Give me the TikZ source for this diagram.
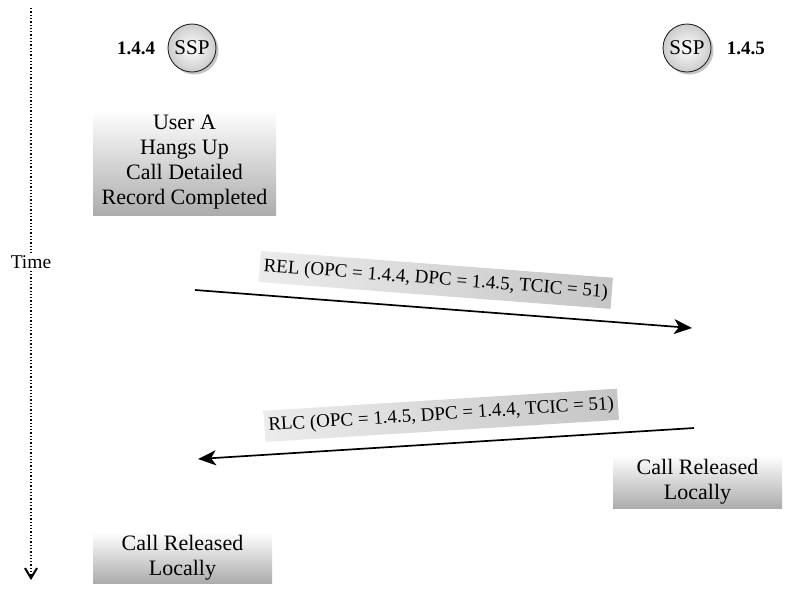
\documentclass[tikz,border=0pt]{standalone}
\usepackage{fontspec}
\setmainfont{Liberation Serif}
\usepackage{tikz}
\usetikzlibrary{arrows.meta, positioning, shadows, calc}

\begin{document}
\begin{tikzpicture}[
    x=1pt, y=-1pt,
    ssp/.style={circle, draw=black!85, line width=0.9pt, inner color=white, outer color=gray!40, minimum size=48pt, inner sep=0pt, font=\fontsize{21}{22}\selectfont, drop shadow={shadow xshift=2.5pt, shadow yshift=-2.5pt, opacity=0.45}},
    pc/.style={font=\fontsize{19}{20}\selectfont\bfseries},
    event/.style={rectangle, top color=white, bottom color=gray!65, align=center, font=\fontsize{22}{25}\selectfont, inner sep=2pt},
    msg/.style={left color=gray!15, right color=gray!45, font=\fontsize{19}{20}\selectfont, inner xsep=4pt, inner ysep=7pt, sloped, above=12pt},
    arrow/.style={line width=1.7pt, -{Stealth[length=18pt, width=15pt, inset=5pt]}},
    timeline/.style={dotted, line width=1.3pt, -{Straight Barb[length=10pt, width=12pt, line width=2pt]}}
]
    \useasboundingbox (0,0) rectangle (785,590);

    % time axis
    \coordinate (ttop) at (31,8);
    \coordinate (tbot) at (31,580);
    \node [font=\fontsize{19.5}{20}\selectfont, inner sep=2pt] (time) at (31,262) {Time};
    \draw [timeline] (ttop) -- (time) -- (tbot);

    % signalling points
    \node [ssp] (sspA) at (192,48) {SSP};
    \node [pc, left=9pt of sspA] (pcA) {1.4.4};
    \node [ssp] (sspB) at (687,48) {SSP};
    \node [pc, right=12pt of sspB] (pcB) {1.4.5};

    % events
    \node [event, minimum width=183pt, minimum height=105pt] (hangup) at (184.5,162.5) {User A\\Hangs Up\\Call Detailed\\Record Completed};
    \node [event, minimum width=169pt, minimum height=53pt] (relB) at (697.5,481.5) {Call Released\\Locally};
    \node [event, minimum width=179pt, minimum height=51pt] (relA) at (182.5,557.5) {Call Released\\Locally};

    % messages
    \coordinate (relstart) at (195,290);
    \coordinate (relend) at (692,328);
    \coordinate (rlcstart) at (694,428);
    \coordinate (rlcend) at (198,459);

    \draw [arrow] (relstart) -- (relend) node [msg, midway, xshift=-10pt] {REL (OPC = 1.4.4, DPC = 1.4.5, TCIC = 51)};
    \draw [arrow] (rlcstart) -- (rlcend) node [msg, midway, xshift=-3pt] {RLC (OPC = 1.4.5, DPC = 1.4.4, TCIC = 51)};
\end{tikzpicture}
\end{document}
